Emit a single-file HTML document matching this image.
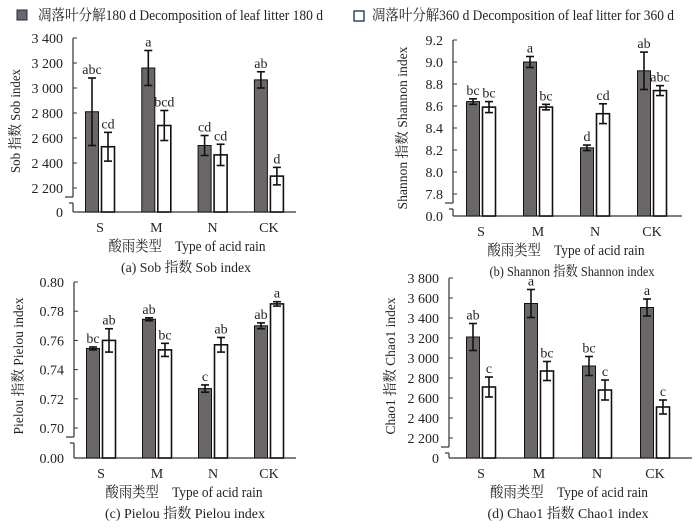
<!DOCTYPE html>
<html><head><meta charset="utf-8"><style>
body{margin:0;background:#fff}
svg{display:block;font-family:"Liberation Serif","Noto Serif CJK SC","Noto Sans CJK SC",serif}
</style></head><body>
<svg id="c" width="700" height="531" viewBox="0 0 700 531"></svg>
<script>
const categories=["S","M","N","CK"];
// Panel a: Sob
const sob180=[2810,3160,2540,3065];
const sob180Err=[270,140,80,65];
const sob360=[2530,2700,2465,2295];
const sob360Err=[115,120,85,70];
const sob180Letters=["abc","a","cd","ab"];
const sob360Letters=["cd","bcd","cd","d"];
const sobTicks=[2200,2400,2600,2800,3000,3200,3400];
const sobTickLabels=["2 200","2 400","2 600","2 800","3 000","3 200","3 400"];
// Panel b: Shannon
const sha180=[8.64,9.00,8.22,8.92];
const sha180Err=[0.025,0.05,0.025,0.17];
const sha360=[8.59,8.59,8.53,8.74];
const sha360Err=[0.05,0.025,0.09,0.045];
const sha180Letters=["bc","a","d","ab"];
const sha360Letters=["bc","bc","cd","abc"];
const shaTicks=[7.8,8.0,8.2,8.4,8.6,8.8,9.0,9.2];
const shaTickLabels=["7.8","8.0","8.2","8.4","8.6","8.8","9.0","9.2"];
// Panel c: Pielou
const pie180=[0.7545,0.7745,0.727,0.770];
const pie180Err=[0.001,0.001,0.0025,0.002];
const pie360=[0.760,0.7535,0.757,0.785];
const pie360Err=[0.008,0.0045,0.005,0.0015];
const pie180Letters=["bc","ab","c","ab"];
const pie360Letters=["ab","bc","ab","a"];
const pieTicks=[0.70,0.72,0.74,0.76,0.78,0.80];
const pieTickLabels=["0.70","0.72","0.74","0.76","0.78","0.80"];
// Panel d: Chao1
const chao180=[3210,3545,2920,3505];
const chao180Err=[135,140,95,85];
const chao360=[2710,2870,2680,2510];
const chao360Err=[100,95,100,70];
const chao180Letters=["ab","a","bc","a"];
const chao360Letters=["c","bc","c","c"];
const chaoTicks=[2200,2400,2600,2800,3000,3200,3400,3600,3800];
const chaoTickLabels=["2 200","2 400","2 600","2 800","3 000","3 200","3 400","3 600","3 800"];

const svg=document.getElementById('c');
const NS="http://www.w3.org/2000/svg";
function mk(tag,attrs,parent){const e=document.createElementNS(NS,tag);for(const k in attrs)e.setAttribute(k,attrs[k]);(parent||svg).appendChild(e);return e;}
function txt(s,x,y,size,anchor,parent,extra){const t=mk('text',Object.assign({x:x,y:y,'font-size':size,'text-anchor':anchor||'middle',fill:'#222'},extra||{}),parent);t.textContent=s;return t;}
function fit(len){return {textLength:len,lengthAdjust:'spacingAndGlyphs'};}

function panel(p){
  const g=mk('g',{});
  
  
  const t0=p.ticks[0],t1=p.ticks[p.ticks.length-1];
  const yS=v=>p.yLow+(v-t0)*(p.yTop-p.yLow)/(t1-t0);
  const ax=mk('g',{stroke:'#333','stroke-width':1.2},g);
  
  mk('line',{x1:p.ax,y1:p.yTop,x2:p.ax,y2:p.yLow+9},ax);
  mk('line',{x1:p.ax-8,y1:p.yLow+9,x2:p.ax,y2:p.yLow+9},ax);
  mk('line',{x1:p.ax-4,y1:p.yLow+15,x2:p.ax,y2:p.yLow+15},ax);
  mk('line',{x1:p.ax,y1:p.yLow+15,x2:p.ax,y2:p.base},ax);
  const xa=mk('line',{x1:p.ax,y1:p.base,x2:p.axEnd,y2:p.base},g);
  xa.setAttribute('stroke','#333');xa.setAttribute('stroke-width',1.2);
  
  p.ticks.forEach((v,i)=>{
    const y=yS(v);
    mk('line',{x1:p.ax,y1:y,x2:p.ax+4,y2:y,stroke:'#333'},g);
    const l=txt(p.tickLabels[i],p.ax-10,y+5,14,'end',g);
    
  });
  const z=txt(p.zero,p.ax-10,p.base+5,14,'end',g);
  
  const series=[[p.s1,p.e1,p.l1,'#6b6767',-8],[p.s2,p.e2,p.l2,'#fff',8]];
  categories.forEach((c,i)=>{
    const cx=p.cx0+i*p.step;
    series.forEach(([s,e,l,fill,off],k)=>{
      const x=cx+off-6.5,y=yS(s[i]);
      const r=mk('rect',{x:x,y:y,width:13,height:p.base-y,fill:fill,stroke:'#111','stroke-width':k?1.6:1},g);
      
      
      const yh=yS(s[i]+e[i]),yl=yS(s[i]-e[i]),mx=cx+off;
      const eb=mk('g',{stroke:'#111','stroke-width':1.6},g);
      
      mk('line',{x1:mx,y1:yh,x2:mx,y2:yl},eb);
      mk('line',{x1:mx-4,y1:yh,x2:mx+4,y2:yh},eb);
      mk('line',{x1:mx-4,y1:yl,x2:mx+4,y2:yl},eb);
      const lt=txt(l[i],mx,yh-4,14,'middle',g);
      
    });
    const xl=txt(c,cx,p.base+20,14,'middle',g);
    
  });
  const xt=txt('酸雨类型　Type of acid rain',p.xtc,p.base+39,15,'middle',g,fit(p.xtl));
  
  const cap=txt(p.caption,p.capc,p.base+60,14,'middle',g,fit(p.capl));
  
  const yt=txt(p.ytitle,0,0,14,'middle',g,Object.assign({transform:`translate(${p.ytx},${p.ytc}) rotate(-90)`},fit(p.ytl)));
  
}
panel({name:'panel-sob',ticks:sobTicks,tickLabels:sobTickLabels,zero:'0',yTop:38,yLow:188,base:212,ax:73,axEnd:296,cx0:100,step:56.3,s1:sob180,e1:sob180Err,l1:sob180Letters,s2:sob360,e2:sob360Err,l2:sob360Letters,caption:'(a)  Sob 指数 Sob index',ytitle:'Sob 指数 Sob index',ytx:20,ytc:121,ytl:104,xtc:187,xtl:157,capc:186,capl:130});
panel({name:'panel-shannon',ticks:shaTicks,tickLabels:shaTickLabels,zero:'0.0',yTop:40,yLow:194,base:216,ax:453,axEnd:682,cx0:481,step:57,s1:sha180,e1:sha180Err,l1:sha180Letters,s2:sha360,e2:sha360Err,l2:sha360Letters,caption:'(b) Shannon 指数  Shannon index',ytitle:'Shannon 指数  Shannon index',ytx:407,ytc:128,ytl:163,xtc:566,xtl:157,capc:572,capl:165});
panel({name:'panel-pielou',ticks:pieTicks,tickLabels:pieTickLabels,zero:'0.00',yTop:282,yLow:428,base:458,ax:74,axEnd:296,cx0:101,step:56,s1:pie180,e1:pie180Err,l1:pie180Letters,s2:pie360,e2:pie360Err,l2:pie360Letters,caption:'(c)  Pielou 指数  Pielou index',ytitle:'Pielou 指数 Pielou index',ytx:23,ytc:366,ytl:137,xtc:184,xtl:157,capc:185,capl:160});
panel({name:'panel-chao1',ticks:chaoTicks,tickLabels:chaoTickLabels,zero:'0',yTop:278,yLow:438,base:458,ax:449,axEnd:692,cx0:481,step:58,s1:chao180,e1:chao180Err,l1:chao180Letters,s2:chao360,e2:chao360Err,l2:chao360Letters,caption:'(d)  Chao1 指数 Chao1 index',ytitle:'Chao1 指数 Chao1 index',ytx:395,ytc:366,ytl:137,xtc:569,xtl:158,capc:568,capl:161});
// legend
const lg1=mk('g',{});
mk('rect',{x:17,y:10,width:10,height:10,fill:'#6b6767',stroke:'#1a2a5a'},lg1);
txt('凋落叶分解180 d Decomposition of leaf litter 180 d',38,20,15,'start',lg1,fit(285));
const lg2=mk('g',{});
mk('rect',{x:354,y:11,width:10,height:10,fill:'#fff',stroke:'#1a2a5a','stroke-width':1.3},lg2);
txt('凋落叶分解360 d Decomposition of leaf litter for 360 d',372,20,15,'start',lg2,fit(302));
</script>
</body></html>
